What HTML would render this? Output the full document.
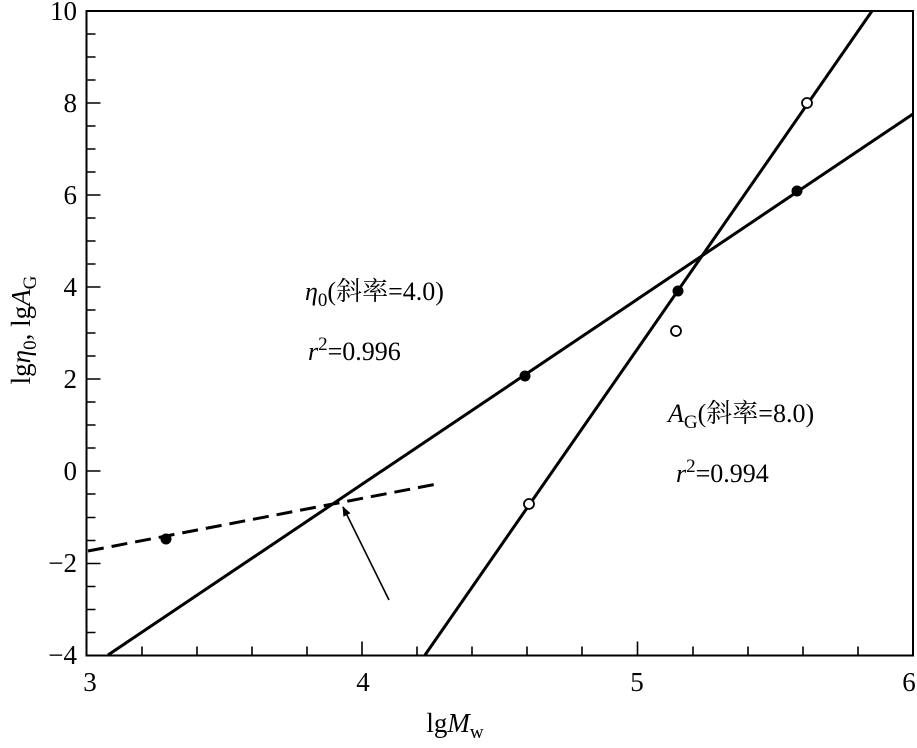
<!DOCTYPE html>
<html><head><meta charset="utf-8"><style>
body{margin:0;background:#fff}
svg, svg text, svg tspan{font-family:"Liberation Serif","Times New Roman","Noto Serif CJK SC",serif !important}
</style></head><body>
<svg width="917" height="743" viewBox="0 0 917 743" xmlns="http://www.w3.org/2000/svg" font-family="Liberation Serif, Noto Serif CJK SC, serif">
<defs><marker id="ah" markerWidth="10" markerHeight="10" refX="9" refY="5" orient="auto" markerUnits="userSpaceOnUse"><path d="M0,1 L10,5 L0,9 Z" fill="#000"/></marker></defs>
<rect x="86.5" y="11" width="826.5" height="644.5" fill="none" stroke="#000" stroke-width="2"/>
<g stroke="#000" stroke-width="1.6">
<path d="M142,655.5v-9M197,655.5v-9M252,655.5v-9M307,655.5v-9M362,655.5v-14M417,655.5v-9M472,655.5v-9M527,655.5v-9M582,655.5v-9M637.5,655.5v-14M693,655.5v-9M748,655.5v-9M803,655.5v-9M858,655.5v-9"/>
<path d="M86.5,632.5h9M86.5,609.5h9M86.5,586.5h9M86.5,563.5h14M86.5,540.5h9M86.5,517.5h9M86.5,494h9M86.5,471h14M86.5,448h9M86.5,425h9M86.5,402h9M86.5,379h14M86.5,356h9M86.5,333h9M86.5,310h9M86.5,287h14M86.5,264h9M86.5,241h9M86.5,218h9M86.5,195h14M86.5,172h9M86.5,149h9M86.5,126h9M86.5,103h14M86.5,80h9M86.5,57h9M86.5,34h9"/>
</g>
<g stroke="#000" stroke-width="3" fill="none">
<line x1="425" y1="655" x2="872" y2="11"/>
<line x1="108" y1="655" x2="913" y2="114"/>
<line x1="88" y1="551" x2="437" y2="484" stroke-dasharray="16,8"/>
</g>
<line x1="389" y1="600" x2="343" y2="507" stroke="#000" stroke-width="1.6" marker-end="url(#ah)"/>
<g fill="#000"><circle cx="166" cy="539" r="5.5"/><circle cx="525" cy="376" r="5.5"/><circle cx="678" cy="291" r="5.5"/><circle cx="797" cy="191" r="5.5"/></g>
<g fill="#fff" stroke="#000" stroke-width="1.8"><circle cx="529" cy="504" r="5"/><circle cx="676" cy="331" r="5"/><circle cx="807" cy="103" r="5"/></g>
<g font-size="27" text-anchor="end">
<text x="77" y="20">10</text><text x="77" y="112">8</text><text x="77" y="204">6</text><text x="77" y="296">4</text><text x="77" y="388">2</text><text x="77" y="480">0</text><text x="77" y="572">−2</text><text x="77" y="664">−4</text>
</g>
<g font-size="27" text-anchor="middle">
<text x="90" y="691">3</text><text x="363" y="691">4</text><text x="637" y="691">5</text><text x="909" y="691">6</text>
</g>
<text x="455" y="732" font-size="27" text-anchor="middle">lg<tspan font-style="italic">M</tspan><tspan font-size="19" dy="6">w</tspan></text>
<text transform="translate(30,330) rotate(-90)" font-size="27" text-anchor="middle">lg<tspan font-style="italic">η</tspan><tspan font-size="19" dy="6">0</tspan><tspan dy="-6">, lg</tspan><tspan font-style="italic">A</tspan><tspan font-size="19" dy="6">G</tspan></text>
<text x="305" y="300" font-size="26"><tspan font-style="italic">η</tspan><tspan font-size="19" dy="6">0</tspan><tspan dy="-6">(斜率=4.0)</tspan></text>
<text x="308" y="360" font-size="26"><tspan font-style="italic">r</tspan><tspan font-size="19" dy="-10">2</tspan><tspan dy="10">=0.996</tspan></text>
<text x="668" y="422" font-size="26"><tspan font-style="italic">A</tspan><tspan font-size="19" dy="6">G</tspan><tspan dy="-6">(斜率=8.0)</tspan></text>
<text x="676" y="482" font-size="26"><tspan font-style="italic">r</tspan><tspan font-size="19" dy="-10">2</tspan><tspan dy="10">=0.994</tspan></text>
</svg>
</body></html>
